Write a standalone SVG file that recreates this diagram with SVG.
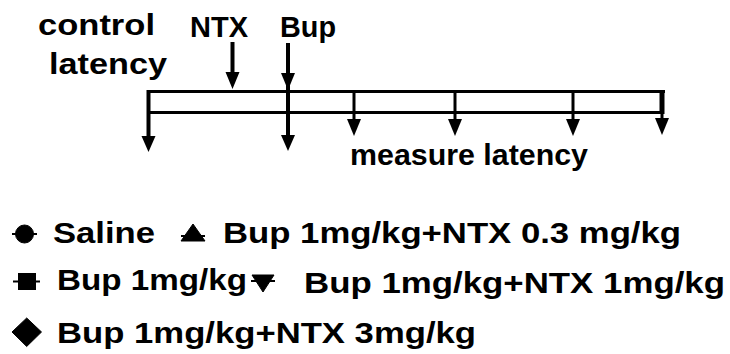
<svg xmlns="http://www.w3.org/2000/svg" width="730" height="354" viewBox="0 0 730 354">
<style>
text{font-family:"Liberation Sans",Arial,sans-serif;font-weight:bold;font-size:30px;fill:#000}
.ln{stroke:#000;fill:none;stroke-width:3}
.sh{stroke:#000;fill:none;stroke-width:4}
.hd{fill:#000}
.mk{fill:#000;stroke:#000}
.stub{stroke:#000;stroke-width:2}
</style>
<rect width="730" height="354" fill="#fff"/>
<g id="labels">
<g id="control"><text x="38" y="35" textLength="117" lengthAdjust="spacingAndGlyphs">control</text><text x="49" y="74" textLength="118" lengthAdjust="spacingAndGlyphs">latency</text></g>
<g id="ntx"><text x="190" y="37" textLength="58" lengthAdjust="spacingAndGlyphs">NTX</text></g>
<g id="bup"><text x="280" y="37" textLength="56" lengthAdjust="spacingAndGlyphs">Bup</text></g>
<g id="measure"><text x="350" y="165" textLength="238" lengthAdjust="spacingAndGlyphs">measure latency</text></g>
</g>
<g id="timeline">
<line class="ln" x1="147" y1="91.5" x2="665" y2="91.5"/>
<line class="ln" x1="147" y1="112.5" x2="663" y2="112.5"/>
</g>
<g id="connectors">
<line class="sh" x1="148.5" y1="90" x2="148.5" y2="137"/>
<polygon class="hd" points="141.5,136 155.5,136 148.5,152"/>
<line class="sh" x1="232.5" y1="42" x2="232.5" y2="74"/>
<polygon class="hd" points="225.5,72 239.5,72 232.5,89"/>
<line class="sh" x1="288" y1="43" x2="288" y2="137"/>
<polygon class="hd" points="281,73 295,73 288,90"/>
<polygon class="hd" points="281,135 295,135 288,151"/>
<line class="ln" x1="354" y1="91" x2="354" y2="121"/>
<polygon class="hd" points="347,119 361,119 354,136"/>
<line class="ln" x1="455" y1="91" x2="455" y2="121"/>
<polygon class="hd" points="448,119 462,119 455,136"/>
<line class="ln" x1="573" y1="91" x2="573" y2="121"/>
<polygon class="hd" points="566,119 580,119 573,136"/>
<line stroke="#000" stroke-width="5" x1="662" y1="90" x2="662" y2="114"/>
<line class="ln" x1="662" y1="112" x2="662" y2="121"/>
<polygon class="hd" points="655,118 669,118 662,135"/>
</g>
<g id="legend">
<g id="saline"><line class="stub" x1="12" y1="234" x2="37" y2="234"/><circle class="mk" cx="24.5" cy="234" r="9"/><text x="53" y="243" textLength="102" lengthAdjust="spacingAndGlyphs">Saline</text></g>
<g id="bup-ntx03"><line class="stub" x1="181" y1="236" x2="205" y2="236"/><polygon class="mk" points="193,224 205,241 181,241"/><text x="223" y="243" textLength="458" lengthAdjust="spacingAndGlyphs">Bup 1mg/kg+NTX 0.3 mg/kg</text></g>
<g id="bup1"><line class="stub" x1="13" y1="281.5" x2="40" y2="281.5"/><rect class="mk" x="18.5" y="273.5" width="17" height="16"/><text x="57" y="290" textLength="190" lengthAdjust="spacingAndGlyphs">Bup 1mg/kg</text></g>
<g id="bup-ntx1"><line class="stub" x1="251" y1="281" x2="275" y2="281"/><polygon class="mk" points="252,275 274,275 263,292"/><text x="304" y="293" textLength="421" lengthAdjust="spacingAndGlyphs">Bup 1mg/kg+NTX 1mg/kg</text></g>
<g id="bup-ntx3"><polygon class="mk" points="26.7,318 41.5,332 26.7,346.5 12,332"/><text x="57" y="343" textLength="419" lengthAdjust="spacingAndGlyphs">Bup 1mg/kg+NTX 3mg/kg</text></g>
</g>
</svg>
